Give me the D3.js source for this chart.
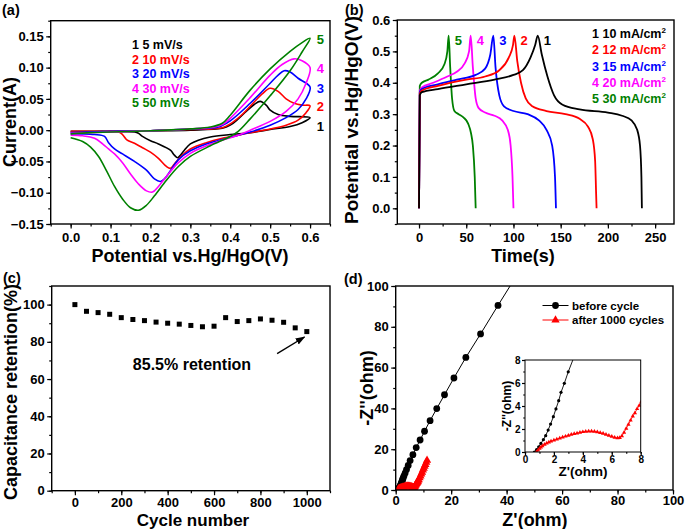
<!DOCTYPE html>
<html><head><meta charset="utf-8">
<script src="https://cdn.jsdelivr.net/npm/d3@7"></script>
<style>body{margin:0;background:#fff}svg{display:block}text{font-family:"Liberation Sans",Arial,sans-serif;font-weight:bold;fill:#000}</style>
</head><body><svg id="c" width="685" height="529"></svg>
<script>
// ---------- DATA ----------
// (a) CV loops: [potential V, current A], forward then reverse
const cvLabels = ["1 5 mV/s","2 10 mV/s","3 20 mV/s","4 30 mV/s","5 50 mV/s"];
const cvColors = ["#000000","#ff0000","#0000ff","#ff00ff","#008000"];
const cv1 = [[0,-0.002],[0.1,-0.002],[0.2,-0.001],[0.3,0.0],[0.38,0.003],[0.4,0.008],[0.42,0.018],[0.44,0.03],[0.46,0.041],[0.475,0.046],[0.49,0.04],[0.5,0.032],[0.52,0.025],[0.55,0.022],[0.6,0.02],
  [0.58,0.012],[0.55,0.006],[0.5,0.001],[0.45,-0.004],[0.4,-0.007],[0.35,-0.011],[0.32,-0.016],[0.3,-0.022],[0.285,-0.032],[0.275,-0.04],[0.268,-0.044],[0.26,-0.04],[0.25,-0.032],[0.22,-0.022],[0.2,-0.017],[0.18,-0.01],[0.17,-0.005],[0.16,-0.003],[0.08,-0.002],[0,-0.002]];
const cv2 = [[0,-0.003],[0.1,-0.002],[0.2,-0.001],[0.3,0.001],[0.38,0.004],[0.4,0.01],[0.43,0.025],[0.46,0.045],[0.48,0.058],[0.5,0.067],[0.52,0.062],[0.54,0.05],[0.56,0.043],[0.58,0.04],[0.6,0.039],
  [0.59,0.028],[0.57,0.016],[0.54,0.008],[0.5,0.002],[0.45,-0.004],[0.42,-0.008],[0.38,-0.013],[0.34,-0.02],[0.3,-0.03],[0.28,-0.04],[0.26,-0.054],[0.25,-0.061],[0.24,-0.058],[0.22,-0.045],[0.2,-0.035],[0.18,-0.028],[0.16,-0.021],[0.14,-0.015],[0.13,-0.007],[0.12,-0.003],[0.08,-0.002],[0,-0.002]];
const cv3 = [[0,-0.004],[0.1,-0.002],[0.2,-0.001],[0.3,0.002],[0.37,0.005],[0.4,0.015],[0.45,0.043],[0.5,0.075],[0.52,0.088],[0.535,0.095],[0.55,0.093],[0.57,0.083],[0.6,0.069],
  [0.59,0.05],[0.57,0.033],[0.54,0.02],[0.5,0.008],[0.45,-0.003],[0.42,-0.008],[0.38,-0.015],[0.34,-0.022],[0.3,-0.033],[0.27,-0.047],[0.25,-0.065],[0.235,-0.078],[0.225,-0.082],[0.21,-0.078],[0.19,-0.064],[0.16,-0.05],[0.13,-0.038],[0.11,-0.03],[0.095,-0.02],[0.085,-0.01],[0.06,-0.007],[0.03,-0.006],[0,-0.006]];
const cv4 = [[0,-0.005],[0.1,-0.003],[0.2,-0.001],[0.3,0.002],[0.36,0.005],[0.38,0.009],[0.4,0.019],[0.45,0.052],[0.5,0.088],[0.53,0.105],[0.56,0.114],[0.58,0.111],[0.6,0.1],
  [0.59,0.075],[0.57,0.05],[0.54,0.03],[0.5,0.014],[0.45,0.0],[0.42,-0.008],[0.38,-0.016],[0.34,-0.025],[0.3,-0.037],[0.27,-0.052],[0.24,-0.074],[0.22,-0.09],[0.205,-0.099],[0.19,-0.097],[0.17,-0.086],[0.15,-0.07],[0.13,-0.052],[0.11,-0.038],[0.095,-0.03],[0.08,-0.022],[0.06,-0.013],[0.03,-0.009],[0,-0.008]];
const cv5 = [[0,-0.006],[0.05,-0.004],[0.1,-0.003],[0.2,-0.001],[0.3,0.002],[0.35,0.005],[0.38,0.011],[0.4,0.024],[0.45,0.064],[0.5,0.098],[0.55,0.126],[0.58,0.14],[0.6,0.147],
  [0.58,0.125],[0.55,0.095],[0.5,0.055],[0.45,0.018],[0.42,-0.002],[0.4,-0.01],[0.35,-0.025],[0.3,-0.042],[0.27,-0.058],[0.24,-0.08],[0.21,-0.105],[0.19,-0.12],[0.17,-0.128],[0.15,-0.124],[0.13,-0.11],[0.11,-0.09],[0.09,-0.065],[0.07,-0.042],[0.05,-0.027],[0.03,-0.018],[0,-0.012]];
const cvSeries = [cv1, cv2, cv3, cv4, cv5];
const cvTicksX = [0,0.1,0.2,0.3,0.4,0.5,0.6];
const cvTicksY = [-0.15,-0.10,-0.05,0,0.05,0.10,0.15];

// (b) galvanostatic charge-discharge: [time s, potential V]
const gcdLabels = ["1 10 mA/cm","2 12 mA/cm","3 15 mA/cm","4 20 mA/cm","5 30 mA/cm"];
const gcd1 = [[0,0],[0.8,0.36],[3,0.37],[20,0.38],[50,0.395],[80,0.41],[100,0.425],[110,0.44],[118,0.48],[123,0.52],[125.7,0.55],
  [130,0.49],[136,0.42],[143,0.36],[152,0.33],[170,0.315],[200,0.305],[215,0.295],[225,0.28],[231,0.25],[234,0.2],[235.5,0.1],[236,0]];
const gcd2 = [[0,0],[0.8,0.365],[3,0.375],[20,0.39],[50,0.41],[70,0.42],[85,0.44],[95,0.48],[99.5,0.52],[101,0.55],
  [104,0.47],[108,0.4],[113,0.35],[120,0.325],[135,0.31],[155,0.3],[170,0.285],[179,0.26],[184,0.22],[186.5,0.15],[187.5,0.05],[188,0]];
const gcd3 = [[0,0],[0.8,0.37],[3,0.38],[20,0.395],[40,0.41],[60,0.425],[70,0.445],[75.5,0.49],[78.7,0.55],
  [81,0.45],[85,0.36],[90,0.325],[100,0.31],[115,0.3],[127,0.28],[135,0.25],[141,0.2],[144,0.1],[145,0]];
const gcd4 = [[0,0],[0.8,0.375],[3,0.385],[15,0.4],[30,0.42],[40,0.435],[48,0.46],[53,0.5],[54.7,0.55],
  [57,0.45],[60,0.35],[63,0.32],[70,0.305],[80,0.295],[88,0.28],[94,0.25],[97,0.2],[99,0.1],[100,0]];
const gcd5 = [[0,0],[0.8,0.39],[3,0.4],[10,0.41],[20,0.43],[27,0.46],[30,0.5],[31.4,0.55],
  [33,0.45],[35,0.35],[37.5,0.31],[42,0.3],[47,0.29],[52,0.27],[55,0.24],[57,0.2],[59,0.1],[60,0]];
const gcdSeries = [gcd1, gcd2, gcd3, gcd4, gcd5];
const gcdTicksX = [0,50,100,150,200,250];
const gcdTicksY = [0,0.1,0.2,0.3,0.4,0.5,0.6];

// (c) cycling retention
const cycles = [0,50,100,150,200,250,300,350,400,450,500,550,600,650,700,750,800,850,900,950,1000];
const retention = [100,96.4,95.7,94.8,93.0,92.0,91.4,90.6,90.0,89.5,88.8,88.1,88.4,93.0,90.9,91.4,92.3,91.6,90.5,87.5,85.5];
const retTicksX = [0,200,400,600,800,1000];
const retTicksY = [0,20,40,60,80,100];

// (d) Nyquist: [Z' ohm, -Z'' ohm]
const eisBefore = [[0.65,0],[0.8,0.2],[0.95,0.45],[1.1,0.75],[1.27,1.07],[1.43,1.42],[1.6,1.91],[1.77,2.43],[1.96,3.07],[2.14,3.75],[2.33,4.46],[2.49,5.19],[2.72,5.97],[2.99,6.97],[3.4,8.3],[3.9,10.0],[4.5,12.0],[5.2,14.4],[6.2,17.3],[7.4,20.8],[8.8,24.5],[10.4,28.8],[12.4,34],[14.8,39.9],[17.6,46.7],[21,54.9],[25.3,65],[30.6,76.5],[36.9,90.5],[44,106]];
const eisAfter = [[0.8,0],[0.9,0.15],[1.0,0.3],[1.1,0.42],[1.2,0.53],[1.35,0.65],[1.5,0.76],[1.65,0.85],[1.8,0.93],[2.0,1.02],[2.2,1.1],[2.4,1.2],[2.6,1.28],[2.8,1.36],[3.0,1.44],[3.2,1.52],[3.4,1.58],[3.6,1.64],[3.8,1.7],[4.0,1.75],[4.2,1.78],[4.4,1.8],[4.6,1.8],[4.8,1.78],[5.0,1.74],[5.2,1.68],[5.4,1.6],[5.6,1.52],[5.8,1.43],[6.0,1.34],[6.2,1.26],[6.4,1.22],[6.55,1.24],[6.7,1.4],[6.85,1.7],[7.0,2.05],[7.15,2.4],[7.3,2.75],[7.45,3.1],[7.6,3.4],[7.75,3.75],[7.9,4.05],[8.05,4.4],[8.3,5.0],[8.6,5.9],[8.9,6.8],[9.2,7.8],[9.5,8.7],[9.8,9.7],[10.1,10.6],[10.4,11.6],[10.7,12.5],[11.0,13.5],[11.3,14.5]];
const eisLabels = ["before cycle","after 1000 cycles"];
const eisTicks = [0,20,40,60,80,100];
const insetTicks = [0,2,4,6,8];

// ---------- DRAW ----------
const svg = d3.select("#c");
const FS_TICK = 13, FS_TITLE = 18;
let clipId = 0;

function panel(box, xd, yd, xt, xm, yt, ym, fx, fy, o) {
  o = o || {};
  const fsT = o.fsTick || FS_TICK;
  const maj = o.maj || 4.5, min = o.min || 2.5;
  const x = d3.scaleLinear().domain(xd).range([box.l, box.r]);
  const y = d3.scaleLinear().domain(yd).range([box.b, box.t]);
  const g = svg.append("g");
  const id = "clip" + (clipId++);
  svg.append("clipPath").attr("id", id).append("rect")
    .attr("x", box.l).attr("y", box.t).attr("width", box.r - box.l).attr("height", box.b - box.t);
  const ax = g.append("g").attr("transform", `translate(0,${box.b})`)
    .call(d3.axisBottom(x).tickValues(xt).tickFormat(fx).tickSize(maj).tickPadding(o.padX != null ? o.padX : 4.5));
  const axm = g.append("g").attr("transform", `translate(0,${box.b})`)
    .call(d3.axisBottom(x).tickValues(xm).tickFormat("").tickSize(min));
  const ay = g.append("g").attr("transform", `translate(${box.l},0)`)
    .call(d3.axisLeft(y).tickValues(yt).tickFormat(fy).tickSize(maj).tickPadding(o.padY || 2.5));
  const aym = g.append("g").attr("transform", `translate(${box.l},0)`)
    .call(d3.axisLeft(y).tickValues(ym).tickFormat("").tickSize(min));
  [ax, axm, ay, aym].forEach(a => {
    a.select(".domain").remove();
    a.selectAll("line").attr("stroke", "#000").attr("stroke-width", 1.2);
    a.selectAll("text").style("font-size", fsT + "px").style("font-weight", "bold")
      .style("font-family", '"Liberation Sans",Arial,sans-serif').attr("fill", "#000");
  });
  const plot = g.append("g").attr("clip-path", `url(#${id})`);
  g.append("rect").attr("x", box.l).attr("y", box.t).attr("width", box.r - box.l).attr("height", box.b - box.t)
    .attr("fill", "none").attr("stroke", "#000").attr("stroke-width", o.frame || 1.4);
  return {x, y, g, plot};
}
function minors(a, b, s) { const r = []; for (let v = a; v <= b + 1e-9; v += s) r.push(+v.toFixed(6)); return r; }
function text(x, y, s, fs, opt) {
  opt = opt || {};
  const t = svg.append("text").attr("x", x).attr("y", y).text(s).style("font-size", fs + "px");
  if (opt.anchor) t.attr("text-anchor", opt.anchor);
  if (opt.fill) t.attr("fill", opt.fill).style("fill", opt.fill);
  if (opt.rot) t.attr("transform", `rotate(-90,${x},${y})`);
  return t;
}

// ---- Panel (a)
{
  const P = panel({l:50.7, r:330, t:20.7, b:224}, [-0.05,0.65], [-0.15,0.175],
    cvTicksX, minors(-0.05,0.65,0.05), cvTicksY, minors(-0.15,0.175,0.025),
    d3.format(".1f"), d3.format(".2f"));
  const line = d3.line().x(d => P.x(d[0])).y(d => P.y(d[1])).curve(d3.curveCatmullRom.alpha(0.5));
  cvSeries.forEach((s, i) => {
    P.plot.append("path").attr("d", line(s)).attr("fill", "none").attr("stroke", cvColors[i]).attr("stroke-width", 1.6);
  });
  const endY = [0.006, 0.038, 0.068, 0.099, 0.146];
  cvSeries.forEach((s, i) => text(P.x(0.617), P.y(endY[i]) + 5, String(i + 1), 13, {fill: cvColors[i]}));
  cvLabels.forEach((l, i) => text(132, 49 + i * 14.5, l, 12.5, {fill: cvColors[i]}));
  text(16, 122, "Current(A)", FS_TITLE, {anchor: "middle", rot: true});
  text(190, 262, "Potential vs.Hg/HgO(V)", FS_TITLE, {anchor: "middle"});
  text(2, 15, "(a)", 14.5);
}

// ---- Panel (b)
{
  const P = panel({l:397.3, r:674, t:20, b:224}, [-23,270], [-0.05,0.6],
    gcdTicksX, minors(-25,270,25).filter(v => v >= -23), gcdTicksY, minors(-0.05,0.6,0.05),
    d3.format("d"), d3.format(".1f"));
  const line = d3.line().x(d => P.x(d[0])).y(d => P.y(d[1])).curve(d3.curveMonotoneX);
  gcdSeries.slice().reverse().forEach((s, k) => {
    const i = gcdSeries.length - 1 - k;
    P.plot.append("path").attr("d", line(s)).attr("fill", "none").attr("stroke", cvColors[i]).attr("stroke-width", 1.8);
  });
  gcdSeries.forEach((s, i) => {
    const peak = s.reduce((a, b) => b[1] > a[1] ? b : a);
    text(P.x(peak[0]) + 6, P.y(0.55) + 9, String(i + 1), 13, {fill: cvColors[i]});
  });
  gcdLabels.forEach((l, i) => {
    const t = text(592, 38 + i * 16.3, l, 12.5, {fill: cvColors[i]});
    t.append("tspan").attr("dy", -5).style("font-size", "8px").text("2");
  });
  text(358, 120, "Potential vs.Hg/HgO(V)", 19, {anchor: "middle", rot: true});
  text(523, 262, "Time(s)", FS_TITLE, {anchor: "middle"});
  text(345, 15, "(b)", 14.5);
}

// ---- Panel (c)
{
  const P = panel({l:51.7, r:330, t:286, b:490.7}, [-100,1100], [0,110],
    retTicksX, minors(-100,1100,100), retTicksY, minors(0,110,10),
    d3.format("d"), d3.format("d"), {padX: 3});
  const pts = cycles.map((c, i) => [c, retention[i]]);
  P.plot.selectAll("rect.sq").data(pts).enter().append("rect")
    .attr("x", d => P.x(d[0]) - 2.5).attr("y", d => P.y(d[1]) - 2.5).attr("width", 5).attr("height", 5).attr("fill", "#000");
  svg.append("defs").append("marker").attr("id", "ah").attr("viewBox", "0 0 10 10").attr("refX", 9).attr("refY", 5)
    .attr("markerWidth", 7).attr("markerHeight", 7).attr("orient", "auto")
    .append("path").attr("d", "M0,1.5 L10,5 L0,8.5 Z").attr("fill", "#000");
  svg.append("line").attr("x1", P.x(872)).attr("y1", P.y(73.7)).attr("x2", P.x(990)).attr("y2", P.y(82.6))
    .attr("stroke", "#000").attr("stroke-width", 1.4).attr("marker-end", "url(#ah)");
  text(192, 370, "85.5% retention", 16, {anchor: "middle"});
  text(17, 392, "Capacitance retention(%)", FS_TITLE, {anchor: "middle", rot: true});
  text(193, 526, "Cycle number", 17, {anchor: "middle"});
  text(3, 283, "(c)", 14.5);
}

// ---- Panel (d)
{
  const P = panel({l:395.7, r:673, t:286, b:490}, [0,100], [0,100],
    eisTicks, minors(0,100,10), eisTicks, minors(0,100,10), d3.format("d"), d3.format("d"), {padX: 1});
  const line = d3.line().x(d => P.x(d[0])).y(d => P.y(d[1]));
  P.plot.append("path").attr("d", line(eisBefore)).attr("fill", "none").attr("stroke", "#000").attr("stroke-width", 1);
  P.plot.selectAll("circle.b").data(eisBefore).enter().append("circle")
    .attr("cx", d => P.x(d[0])).attr("cy", d => P.y(d[1])).attr("r", 3.4).attr("fill", "#000");
  P.plot.append("path").attr("d", line(eisAfter)).attr("fill", "none").attr("stroke", "#f00").attr("stroke-width", 1);
  const tri = d3.symbol().type(d3.symbolTriangle).size(30);
  P.plot.selectAll("path.a").data(eisAfter).enter().append("path")
    .attr("d", tri).attr("transform", d => `translate(${P.x(d[0])},${P.y(d[1])})`).attr("fill", "#f00");
  svg.append("line").attr("x1", 542.5).attr("x2", 568.5).attr("y1", 305.5).attr("y2", 305.5).attr("stroke", "#000").attr("stroke-width", 1);
  svg.append("circle").attr("cx", 555.5).attr("cy", 305.5).attr("r", 3.4).attr("fill", "#000");
  svg.append("line").attr("x1", 542.5).attr("x2", 568.5).attr("y1", 320).attr("y2", 320).attr("stroke", "#f00").attr("stroke-width", 1);
  svg.append("path").attr("d", tri).attr("transform", "translate(555.5,320)").attr("fill", "#f00");
  text(572, 309.5, eisLabels[0], 11.5);
  text(572, 324, eisLabels[1], 11.5);
  text(373, 388, "-Z''(ohm)", FS_TITLE, {anchor: "middle", rot: true});
  text(535, 525.5, "Z'(ohm)", FS_TITLE, {anchor: "middle"});
  text(344, 284, "(d)", 14.5);

  // inset
  const I = panel({l:525, r:640.7, t:360, b:452}, [0,8], [0,8],
    insetTicks, minors(0,8,1), insetTicks, minors(0,8,1), d3.format("d"), d3.format("d"),
    {fsTick: 10, maj: 3, min: 1.8, padX: 1, padY: 1.5, frame: 1});
  const il = d3.line().x(d => I.x(d[0])).y(d => I.y(d[1]));
  I.plot.append("path").attr("d", il(eisBefore)).attr("fill", "none").attr("stroke", "#000").attr("stroke-width", 0.9);
  I.plot.selectAll("circle").data(eisBefore).enter().append("circle")
    .attr("cx", d => I.x(d[0])).attr("cy", d => I.y(d[1])).attr("r", 1.6).attr("fill", "#000");
  I.plot.append("path").attr("d", il(eisAfter)).attr("fill", "none").attr("stroke", "#f00").attr("stroke-width", 0.9);
  const tri2 = d3.symbol().type(d3.symbolTriangle).size(8);
  I.plot.selectAll("path.t").data(eisAfter).enter().append("path")
    .attr("d", tri2).attr("transform", d => `translate(${I.x(d[0])},${I.y(d[1])})`).attr("fill", "#f00");
  text(511, 406, "-Z''(ohm)", 12, {anchor: "middle", rot: true});
  text(583, 476, "Z'(ohm)", 13.5, {anchor: "middle"});
}
</script></body></html>
